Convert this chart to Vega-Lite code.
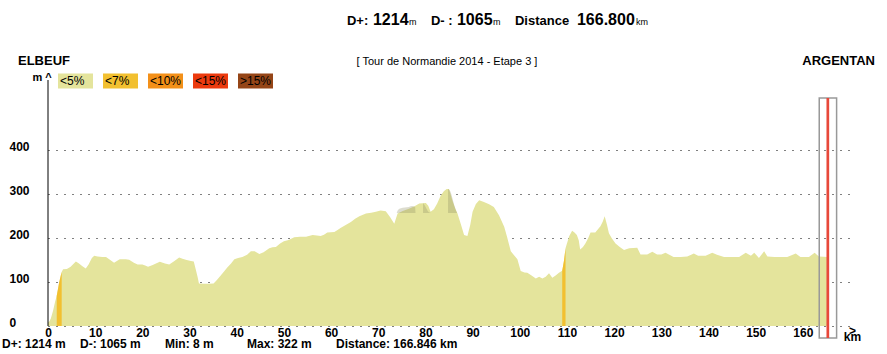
{
  "$schema": "https://vega.github.io/schema/vega-lite/v6.json",
  "width": 802,
  "height": 246,
  "autosize": {"type": "none"},
  "padding": {"left": 48, "top": 80, "right": 37, "bottom": 28},
  "background": "white",
  "config": {"view": {"stroke": null}, "font": "Liberation Sans"},
  "datasets": {
    "profile": [
      {"km":0,"m":8},{"km":0.3,"m":11},{"km":0.6,"m":17},{"km":1.1,"m":36},{"km":1.5,"m":55},{"km":1.85,"m":69},{"km":2.4,"m":101},{"km":2.9,"m":123},{"km":3.2,"m":129},{"km":4.0,"m":130},{"km":4.8,"m":135},{"km":5.9,"m":147},{"km":6.5,"m":143},{"km":7.3,"m":136},{"km":8.0,"m":131},{"km":8.6,"m":140},{"km":9.3,"m":155},{"km":9.8,"m":160},{"km":10.5,"m":158},{"km":11.5,"m":157},{"km":12.3,"m":157},{"km":13.2,"m":150},{"km":14.0,"m":144},{"km":14.6,"m":148},{"km":15.2,"m":152},{"km":16.5,"m":152},{"km":17.2,"m":151},{"km":18.2,"m":144},{"km":19.0,"m":140},{"km":20.0,"m":140},{"km":20.6,"m":138},{"km":21.2,"m":135},{"km":22.2,"m":139},{"km":23.0,"m":143},{"km":23.7,"m":146},{"km":24.8,"m":142},{"km":25.7,"m":140},{"km":26.8,"m":148},{"km":27.8,"m":156},{"km":28.5,"m":153},{"km":29.4,"m":150},{"km":30.3,"m":148},{"km":30.9,"m":147},{"km":31.3,"m":130},{"km":31.7,"m":112},{"km":32.0,"m":97},{"km":33.0,"m":96},{"km":34.0,"m":96},{"km":35.1,"m":97},{"km":35.8,"m":105},{"km":36.7,"m":116},{"km":37.4,"m":125},{"km":38.0,"m":133},{"km":38.8,"m":142},{"km":39.5,"m":152},{"km":40.3,"m":155},{"km":41.2,"m":157},{"km":42.2,"m":162},{"km":43.0,"m":170},{"km":43.8,"m":170},{"km":44.8,"m":164},{"km":45.7,"m":168},{"km":46.9,"m":177},{"km":47.6,"m":179},{"km":48.3,"m":180},{"km":49.2,"m":188},{"km":50.0,"m":193},{"km":51.0,"m":196},{"km":52.2,"m":202},{"km":53.4,"m":203},{"km":54.7,"m":203},{"km":56.1,"m":207},{"km":57.0,"m":206},{"km":57.8,"m":205},{"km":58.5,"m":208},{"km":59.2,"m":213},{"km":60.7,"m":214},{"km":61.3,"m":218},{"km":62.0,"m":223},{"km":63.1,"m":230},{"km":64.2,"m":237},{"km":65.1,"m":244},{"km":66.0,"m":250},{"km":67.4,"m":256},{"km":68.5,"m":258},{"km":69.5,"m":260},{"km":70.5,"m":263},{"km":71.6,"m":261},{"km":72.5,"m":248},{"km":73.4,"m":233},{"km":74.1,"m":256},{"km":75.2,"m":262},{"km":76.5,"m":267},{"km":77.6,"m":272},{"km":78.7,"m":279},{"km":80.1,"m":280},{"km":80.6,"m":274},{"km":81.1,"m":260},{"km":81.8,"m":266},{"km":82.5,"m":279},{"km":83.2,"m":296},{"km":83.9,"m":307},{"km":84.5,"m":312},{"km":85.0,"m":312},{"km":85.7,"m":286},{"km":86.3,"m":268},{"km":86.8,"m":256},{"km":87.5,"m":232},{"km":88.2,"m":207},{"km":88.9,"m":205},{"km":89.5,"m":230},{"km":90.0,"m":260},{"km":90.7,"m":278},{"km":91.4,"m":286},{"km":92.4,"m":282},{"km":93.5,"m":277},{"km":94.5,"m":271},{"km":95.6,"m":252},{"km":96.7,"m":226},{"km":97.3,"m":203},{"km":98.1,"m":170},{"km":98.7,"m":162},{"km":99.5,"m":152},{"km":100.2,"m":125},{"km":101.0,"m":122},{"km":101.6,"m":121},{"km":102.5,"m":115},{"km":103.4,"m":108},{"km":104.1,"m":112},{"km":104.8,"m":108},{"km":105.5,"m":112},{"km":106.2,"m":120},{"km":106.9,"m":110},{"km":107.6,"m":115},{"km":108.3,"m":121},{"km":109.0,"m":126},{"km":109.4,"m":150},{"km":109.7,"m":177},{"km":110.0,"m":188},{"km":110.5,"m":205},{"km":111.1,"m":217},{"km":111.6,"m":213},{"km":112.1,"m":207},{"km":112.5,"m":195},{"km":112.8,"m":174},{"km":113.4,"m":180},{"km":113.9,"m":188},{"km":114.5,"m":200},{"km":115.0,"m":213},{"km":116.0,"m":213},{"km":117.1,"m":227},{"km":117.6,"m":238},{"km":118.0,"m":250},{"km":118.5,"m":230},{"km":118.9,"m":211},{"km":119.5,"m":200},{"km":120.3,"m":188},{"km":121.2,"m":180},{"km":122.1,"m":173},{"km":123.2,"m":177},{"km":124.9,"m":178},{"km":125.6,"m":163},{"km":127.0,"m":163},{"km":128.1,"m":169},{"km":129.1,"m":163},{"km":130.0,"m":163},{"km":130.9,"m":167},{"km":131.6,"m":163},{"km":132.6,"m":157},{"km":134.1,"m":157},{"km":135.5,"m":158},{"km":136.9,"m":165},{"km":137.8,"m":160},{"km":139.4,"m":160},{"km":140.8,"m":167},{"km":141.8,"m":162},{"km":143.3,"m":157},{"km":145.0,"m":157},{"km":146.5,"m":157},{"km":147.9,"m":167},{"km":149.0,"m":160},{"km":149.7,"m":167},{"km":150.7,"m":155},{"km":151.8,"m":170},{"km":152.5,"m":158},{"km":154.0,"m":157},{"km":156.7,"m":157},{"km":158.5,"m":165},{"km":159.5,"m":157},{"km":161.3,"m":157},{"km":162.5,"m":167},{"km":163.4,"m":158},{"km":165.3,"m":157}
    ],
    "steep": [
      {"km":1.85,"m":69,"grade":"<7%","climb":"1"},{"km":2.4,"m":101,"grade":"<7%","climb":"1"},{"km":2.9,"m":123,"grade":"<7%","climb":"1"},
      {"km":109.0,"m":126,"grade":"<7%","climb":"2"},{"km":109.4,"m":150,"grade":"<7%","climb":"2"},{"km":109.7,"m":177,"grade":"<7%","climb":"2"}
    ],
    "shadow": [
      {"km":73.9,"m":257,"blob":"a"},{"km":74.2,"m":264,"blob":"a"},{"km":74.8,"m":268,"blob":"a"},{"km":75.6,"m":270,"blob":"a"},{"km":76.5,"m":271,"blob":"a"},{"km":77.2,"m":273,"blob":"a"},{"km":77.8,"m":271,"blob":"a"},{"km":77.9,"m":257,"blob":"a"},
      {"km":79.5,"m":280,"blob":"b"},{"km":80.1,"m":270,"blob":"b"},{"km":80.5,"m":262,"blob":"b"},{"km":81.0,"m":258,"blob":"b"},{"km":81.3,"m":257,"blob":"b"},
      {"km":84.8,"m":312,"blob":"c"},{"km":85.3,"m":306,"blob":"c"},{"km":85.7,"m":292,"blob":"c"},{"km":86.2,"m":272,"blob":"c"},{"km":86.7,"m":257,"blob":"c"}
    ],
    "none": [{}]
  },
  "layer": [
    {
      "data": {"name": "profile"},
      "mark": {"type": "area", "interpolate": "linear"},
      "encoding": {
        "x": {"field": "km", "type": "quantitative", "scale": {"domain": [0, 170], "nice": false, "zero": false},
          "axis": {"values": [0,10,20,30,40,50,60,70,80,90,100,110,120,130,140,150,160], "grid": false, "ticks": false, "domain": false,
            "labelFontSize": 12, "labelFontWeight": "bold", "labelColor": "black", "labelPadding": 1, "labelFlush": false, "labelOverlap": false,
            "title": [">", "km"], "titleX": 804, "titleY": -1, "titleAlign": "center", "titleBaseline": "top", "titleFontSize": 12, "titleFontWeight": "bold", "titleLineHeight": 6, "titleColor": "black"}},
        "y": {"field": "m", "type": "quantitative", "stack": null, "scale": {"domain": [0, 560], "nice": false},
          "axis": {"values": [0,100,200,300,400], "grid": true, "gridColor": "black", "gridDash": [1, 7], "gridWidth": 1, "ticks": false, "domain": false,
            "labelAlign": "left", "labelBaseline": "alphabetic", "labelPadding": 39, "labelFontSize": 12, "labelFontWeight": "bold", "labelColor": "black", "labelFlush": false,
            "title": "m ^", "titleAngle": 0, "titleX": -16, "titleY": 0, "titleAlign": "left", "titleBaseline": "alphabetic", "titleFontSize": 11, "titleFontWeight": "bold", "titleColor": "black"}},
        "color": {"datum": "<5%", "type": "nominal",
          "scale": {"domain": ["<5%", "<7%", "<10%", "<15%", ">15%"], "range": ["#E4E49C", "#F2C030", "#F39019", "#EC3A0E", "#954517"]},
          "legend": {"orient": "none", "legendX": 10, "legendY": -17, "direction": "horizontal", "title": null, "symbolType": "M-1,-0.43H1V0.43H-1Z", "symbolSize": 1225, "symbolStrokeWidth": 0, "symbolOpacity": 1, "labelOffset": -33, "labelFontSize": 12, "labelColor": "black", "columnPadding": 10, "padding": 0, "offset": 0}}
      }
    },
    {
      "data": {"name": "steep"},
      "mark": {"type": "area", "interpolate": "linear"},
      "encoding": {
        "x": {"field": "km", "type": "quantitative"},
        "y": {"field": "m", "type": "quantitative", "stack": null},
        "color": {"field": "grade", "type": "nominal",
          "legend": {"orient": "none", "legendX": 10, "legendY": -17, "direction": "horizontal", "title": null, "symbolType": "M-1,-0.43H1V0.43H-1Z", "symbolSize": 1225, "symbolStrokeWidth": 0, "symbolOpacity": 1, "labelOffset": -33, "labelFontSize": 12, "labelColor": "black", "columnPadding": 10, "padding": 0, "offset": 0}},
        "detail": {"field": "climb", "type": "nominal"}
      }
    },
    {
      "data": {"name": "shadow"},
      "mark": {"type": "area", "interpolate": "monotone", "color": "#8a8a60", "opacity": 0.3},
      "encoding": {
        "x": {"field": "km", "type": "quantitative"},
        "y": {"field": "m", "type": "quantitative", "stack": null},
        "y2": {"datum": 257},
        "detail": {"field": "blob", "type": "nominal"}
      }
    },
    {
      "data": {"name": "none"},
      "mark": {"type": "rule", "color": "black", "strokeWidth": 1},
      "encoding": {"x": {"datum": 0, "type": "quantitative"}, "y": {"datum": 0, "type": "quantitative"}, "y2": {"datum": 560}}
    },
    {
      "data": {"name": "none"},
      "mark": {"type": "rect", "fill": null, "fillOpacity": 0, "stroke": "#999999", "strokeWidth": 1.5},
      "encoding": {"x": {"datum": 163.48, "type": "quantitative"}, "x2": {"datum": 167.16}, "y": {"datum": -27.3, "type": "quantitative"}, "y2": {"datum": 519}}
    },
    {
      "data": {"name": "none"},
      "mark": {"type": "rule", "color": "#E8483A", "strokeWidth": 2.7},
      "encoding": {"x": {"datum": 165.3, "type": "quantitative"}, "y": {"datum": -27.3, "type": "quantitative"}, "y2": {"datum": 519}}
    },
    {"data": {"name": "none"}, "mark": {"type": "text", "align": "left", "baseline": "alphabetic", "fontSize": 13, "fontWeight": "bold", "color": "black"},
      "encoding": {"x": {"datum": 63.37, "type": "quantitative"}, "y": {"datum": 685, "type": "quantitative"}, "text": {"value": "D+:"}}},
    {"data": {"name": "none"}, "mark": {"type": "text", "align": "left", "baseline": "alphabetic", "fontSize": 16, "fontWeight": "bold", "color": "black"},
      "encoding": {"x": {"datum": 68.88, "type": "quantitative"}, "y": {"datum": 685, "type": "quantitative"}, "text": {"value": "1214"}}},
    {"data": {"name": "none"}, "mark": {"type": "text", "align": "left", "baseline": "alphabetic", "fontSize": 9, "color": "black"},
      "encoding": {"x": {"datum": 76.52, "type": "quantitative"}, "y": {"datum": 685, "type": "quantitative"}, "text": {"value": "m"}}},
    {"data": {"name": "none"}, "mark": {"type": "text", "align": "left", "baseline": "alphabetic", "fontSize": 13, "fontWeight": "bold", "color": "black"},
      "encoding": {"x": {"datum": 81.18, "type": "quantitative"}, "y": {"datum": 685, "type": "quantitative"}, "text": {"value": "D- :"}}},
    {"data": {"name": "none"}, "mark": {"type": "text", "align": "left", "baseline": "alphabetic", "fontSize": 16, "fontWeight": "bold", "color": "black"},
      "encoding": {"x": {"datum": 86.69, "type": "quantitative"}, "y": {"datum": 685, "type": "quantitative"}, "text": {"value": "1065"}}},
    {"data": {"name": "none"}, "mark": {"type": "text", "align": "left", "baseline": "alphabetic", "fontSize": 9, "color": "black"},
      "encoding": {"x": {"datum": 94.32, "type": "quantitative"}, "y": {"datum": 685, "type": "quantitative"}, "text": {"value": "m"}}},
    {"data": {"name": "none"}, "mark": {"type": "text", "align": "left", "baseline": "alphabetic", "fontSize": 13, "fontWeight": "bold", "color": "black"},
      "encoding": {"x": {"datum": 98.98, "type": "quantitative"}, "y": {"datum": 685, "type": "quantitative"}, "text": {"value": "Distance"}}},
    {"data": {"name": "none"}, "mark": {"type": "text", "align": "left", "baseline": "alphabetic", "fontSize": 16, "fontWeight": "bold", "color": "black"},
      "encoding": {"x": {"datum": 112.12, "type": "quantitative"}, "y": {"datum": 685, "type": "quantitative"}, "text": {"value": "166.800"}}},
    {"data": {"name": "none"}, "mark": {"type": "text", "align": "left", "baseline": "alphabetic", "fontSize": 9, "color": "black"},
      "encoding": {"x": {"datum": 124.63, "type": "quantitative"}, "y": {"datum": 685, "type": "quantitative"}, "text": {"value": "km"}}},
    {"data": {"name": "none"}, "mark": {"type": "text", "align": "left", "baseline": "alphabetic", "fontSize": 13, "fontWeight": "bold", "color": "black"},
      "encoding": {"x": {"datum": -6.36, "type": "quantitative"}, "y": {"datum": 594, "type": "quantitative"}, "text": {"value": "ELBEUF"}}},
    {"data": {"name": "none"}, "mark": {"type": "text", "align": "right", "baseline": "alphabetic", "fontSize": 13, "fontWeight": "bold", "color": "black"},
      "encoding": {"x": {"datum": 175.3, "type": "quantitative"}, "y": {"datum": 594, "type": "quantitative"}, "text": {"value": "ARGENTAN"}}},
    {"data": {"name": "none"}, "mark": {"type": "text", "align": "center", "baseline": "alphabetic", "fontSize": 11, "color": "black"},
      "encoding": {"x": {"datum": 84.57, "type": "quantitative"}, "y": {"datum": 594, "type": "quantitative"}, "text": {"value": "[ Tour de Normandie 2014 - Etape 3 ]"}}},
    {"data": {"name": "none"}, "mark": {"type": "text", "align": "left", "baseline": "alphabetic", "fontSize": 12, "fontWeight": "bold", "color": "black"},
      "encoding": {"x": {"datum": -9.75, "type": "quantitative"}, "y": {"datum": -50.5, "type": "quantitative"}, "text": {"value": "D+: 1214 m"}}},
    {"data": {"name": "none"}, "mark": {"type": "text", "align": "left", "baseline": "alphabetic", "fontSize": 12, "fontWeight": "bold", "color": "black"},
      "encoding": {"x": {"datum": 6.78, "type": "quantitative"}, "y": {"datum": -50.5, "type": "quantitative"}, "text": {"value": "D-: 1065 m"}}},
    {"data": {"name": "none"}, "mark": {"type": "text", "align": "left", "baseline": "alphabetic", "fontSize": 12, "fontWeight": "bold", "color": "black"},
      "encoding": {"x": {"datum": 24.8, "type": "quantitative"}, "y": {"datum": -50.5, "type": "quantitative"}, "text": {"value": "Min: 8 m"}}},
    {"data": {"name": "none"}, "mark": {"type": "text", "align": "left", "baseline": "alphabetic", "fontSize": 12, "fontWeight": "bold", "color": "black"},
      "encoding": {"x": {"datum": 42.18, "type": "quantitative"}, "y": {"datum": -50.5, "type": "quantitative"}, "text": {"value": "Max: 322 m"}}},
    {"data": {"name": "none"}, "mark": {"type": "text", "align": "left", "baseline": "alphabetic", "fontSize": 12, "fontWeight": "bold", "color": "black"},
      "encoding": {"x": {"datum": 61.04, "type": "quantitative"}, "y": {"datum": -50.5, "type": "quantitative"}, "text": {"value": "Distance: 166.846 km"}}}
  ]
}
